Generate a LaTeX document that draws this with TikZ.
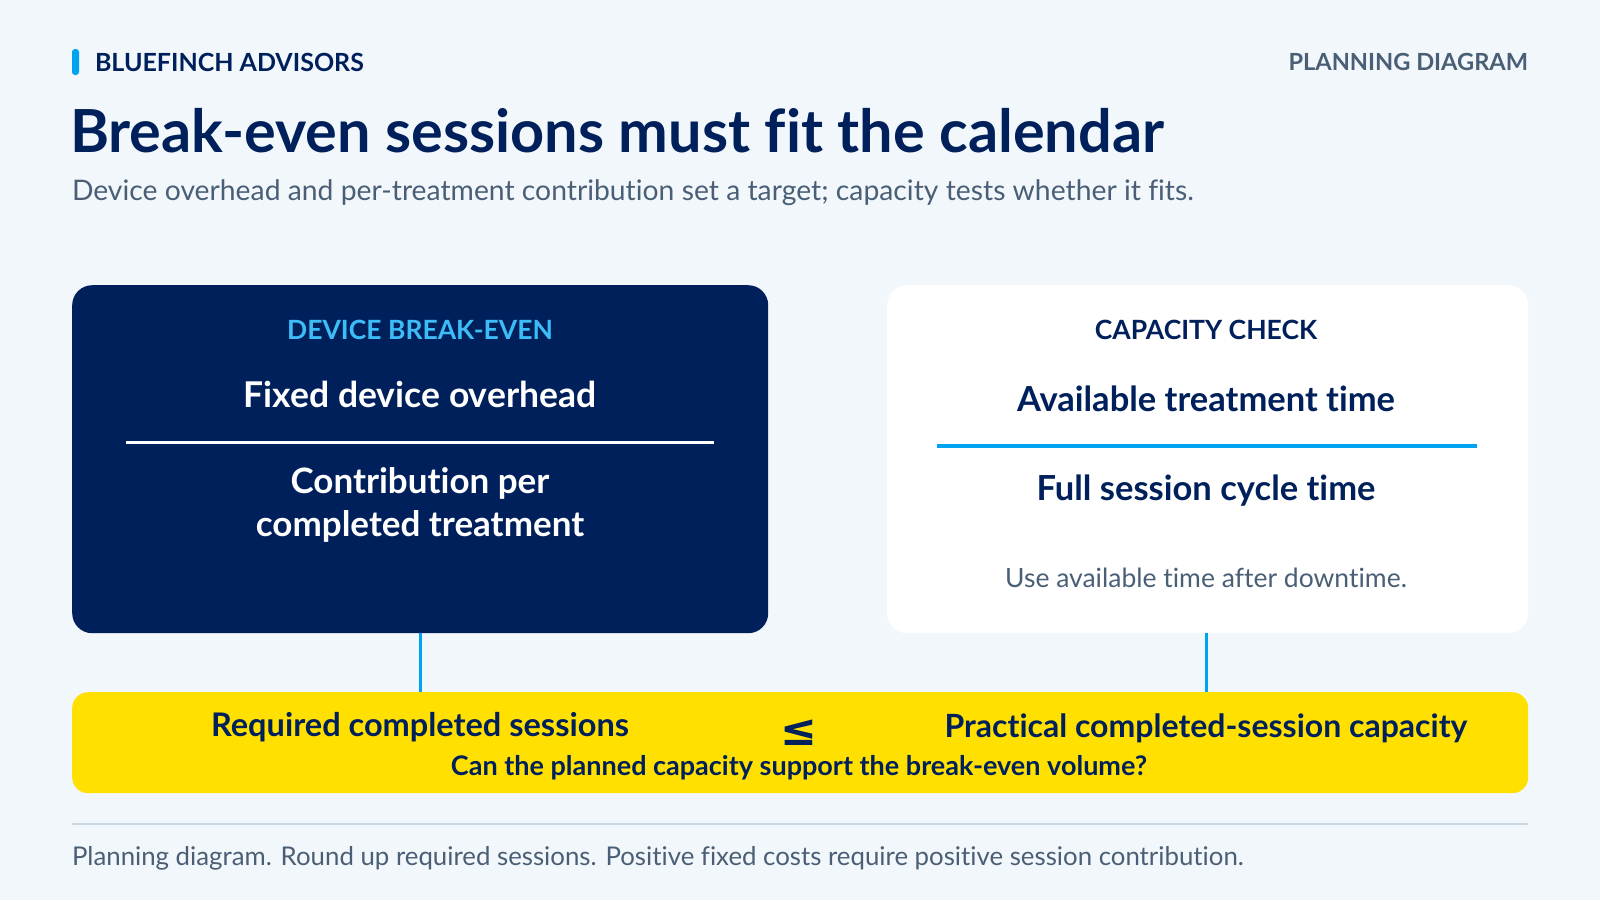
\documentclass[tikz,border=0pt]{standalone}
\usepackage{fontspec}
\setmainfont{Lato}[Ligatures=NoCommon]
\newfontfamily\symfont{DejaVu Sans}
\usetikzlibrary{positioning}
\definecolor{bgc}{HTML}{F2F7FB}
\definecolor{navy}{HTML}{00205B}
\definecolor{accent}{HTML}{00A3F0}
\definecolor{lightacc}{HTML}{3DBDF7}
\definecolor{graytxt}{HTML}{4A5F76}
\definecolor{yel}{HTML}{FFE000}
\definecolor{rulec}{HTML}{CBD8E4}
\newcommand{\fs}[1]{\fontsize{#1}{#1}\selectfont}
\tikzset{
  txt/.style={inner sep=0pt, outer sep=0pt},
  panel/.style={rounded corners=20pt, inner sep=0pt},
  conn/.style={draw=accent, line width=3pt},
}
\begin{document}
\begin{tikzpicture}[x=1pt,y=-1pt]
\useasboundingbox (0,0) rectangle (1600,900);
\fill[bgc] (0,0) rectangle (1600,900);
% header
\fill[accent, rounded corners=3pt] (72,49) rectangle (79,75);
\node[txt, anchor=west, text=navy, font=\fs{25}\bfseries] (brand) at (95,62) {BLUEFINCH ADVISORS};
\node[txt, anchor=east, text=graytxt, font=\fs{23.6}\bfseries] (kind) at (1528,62) {PLANNING DIAGRAM};
\node[txt, anchor=west, text=navy, font=\fs{59.4}\bfseries] (title) at (70,131) {Break-even sessions must fit the calendar};
\node[txt, anchor=west, text=graytxt, font=\fs{28.3}] (sub) at (72,193) {Device overhead and per-treatment contribution set a target; capacity tests whether it fits.};
% panels
\node[panel, fill=navy, minimum width=696pt, minimum height=348pt, anchor=north west] (left) at (72,285) {};
\node[panel, fill=white, minimum width=641pt, minimum height=348pt, anchor=north west] (right) at (887,285) {};
% left content
\node[txt, text=lightacc, font=\fs{26.5}\bfseries] (lhead) at (420,330) {DEVICE BREAK-EVEN};
\node[txt, text=white, font=\fs{35.5}\bfseries] (lnum) at (420,394) {Fixed device overhead};
\coordinate (la) at (126,442);
\coordinate (lb) at (714,442);
\draw[white, line width=3pt] (la) -- (lb);
\node[txt, text=white, font=\fs{35}\bfseries, align=center] (lden) at (420,505) {Contribution per\\[8pt]completed treatment};
% right content
\node[txt, text=navy, font=\fs{26.5}\bfseries] (rhead) at (1206,330) {CAPACITY CHECK};
\node[txt, text=navy, font=\fs{34.5}\bfseries] (rnum) at (1206,399) {Available treatment time};
\coordinate (ra) at (937,446);
\coordinate (rb) at (1477,446);
\draw[accent, line width=4pt] (ra) -- (rb);
\node[txt, text=navy, font=\fs{34.5}\bfseries] (rden) at (1206,491) {Full session cycle time};
\node[txt, text=graytxt, font=\fs{26.5}] (rnote) at (1206,578) {Use available time after downtime.};
% result bar
\node[fill=yel, rounded corners=16pt, minimum width=1456pt, minimum height=101pt, anchor=north west, inner sep=0pt] (bar) at (72,692) {};
\draw[conn] (left.south -| lhead) -- (bar.north -| lhead);
\draw[conn] (right.south -| rhead) -- (bar.north -| rhead);
\node[txt, text=navy, font=\fs{32.5}\bfseries] (req) at (420,727) {Required completed sessions};
\node[txt, text=navy, font=\symfont\bfseries\fs{44}] (leq) at (799,733) {≤};
\node[txt, text=navy, font=\fs{32}\bfseries] (cap) at (1206,728) {Practical completed-session capacity};
\node[txt, text=navy, font=\fs{27}\bfseries] (q) at (799,768) {Can the planned capacity support the break-even volume?};
% footer
\coordinate (fa) at (72,824);
\coordinate (fb) at (1528,824);
\draw[rulec, line width=1.5pt] (fa) -- (fb);
\node[txt, anchor=west, text=graytxt, font=\fs{25.8}] (foot) at (72,858) {Planning diagram. Round up required sessions. Positive fixed costs require positive session contribution.};
\end{tikzpicture}
\end{document}
